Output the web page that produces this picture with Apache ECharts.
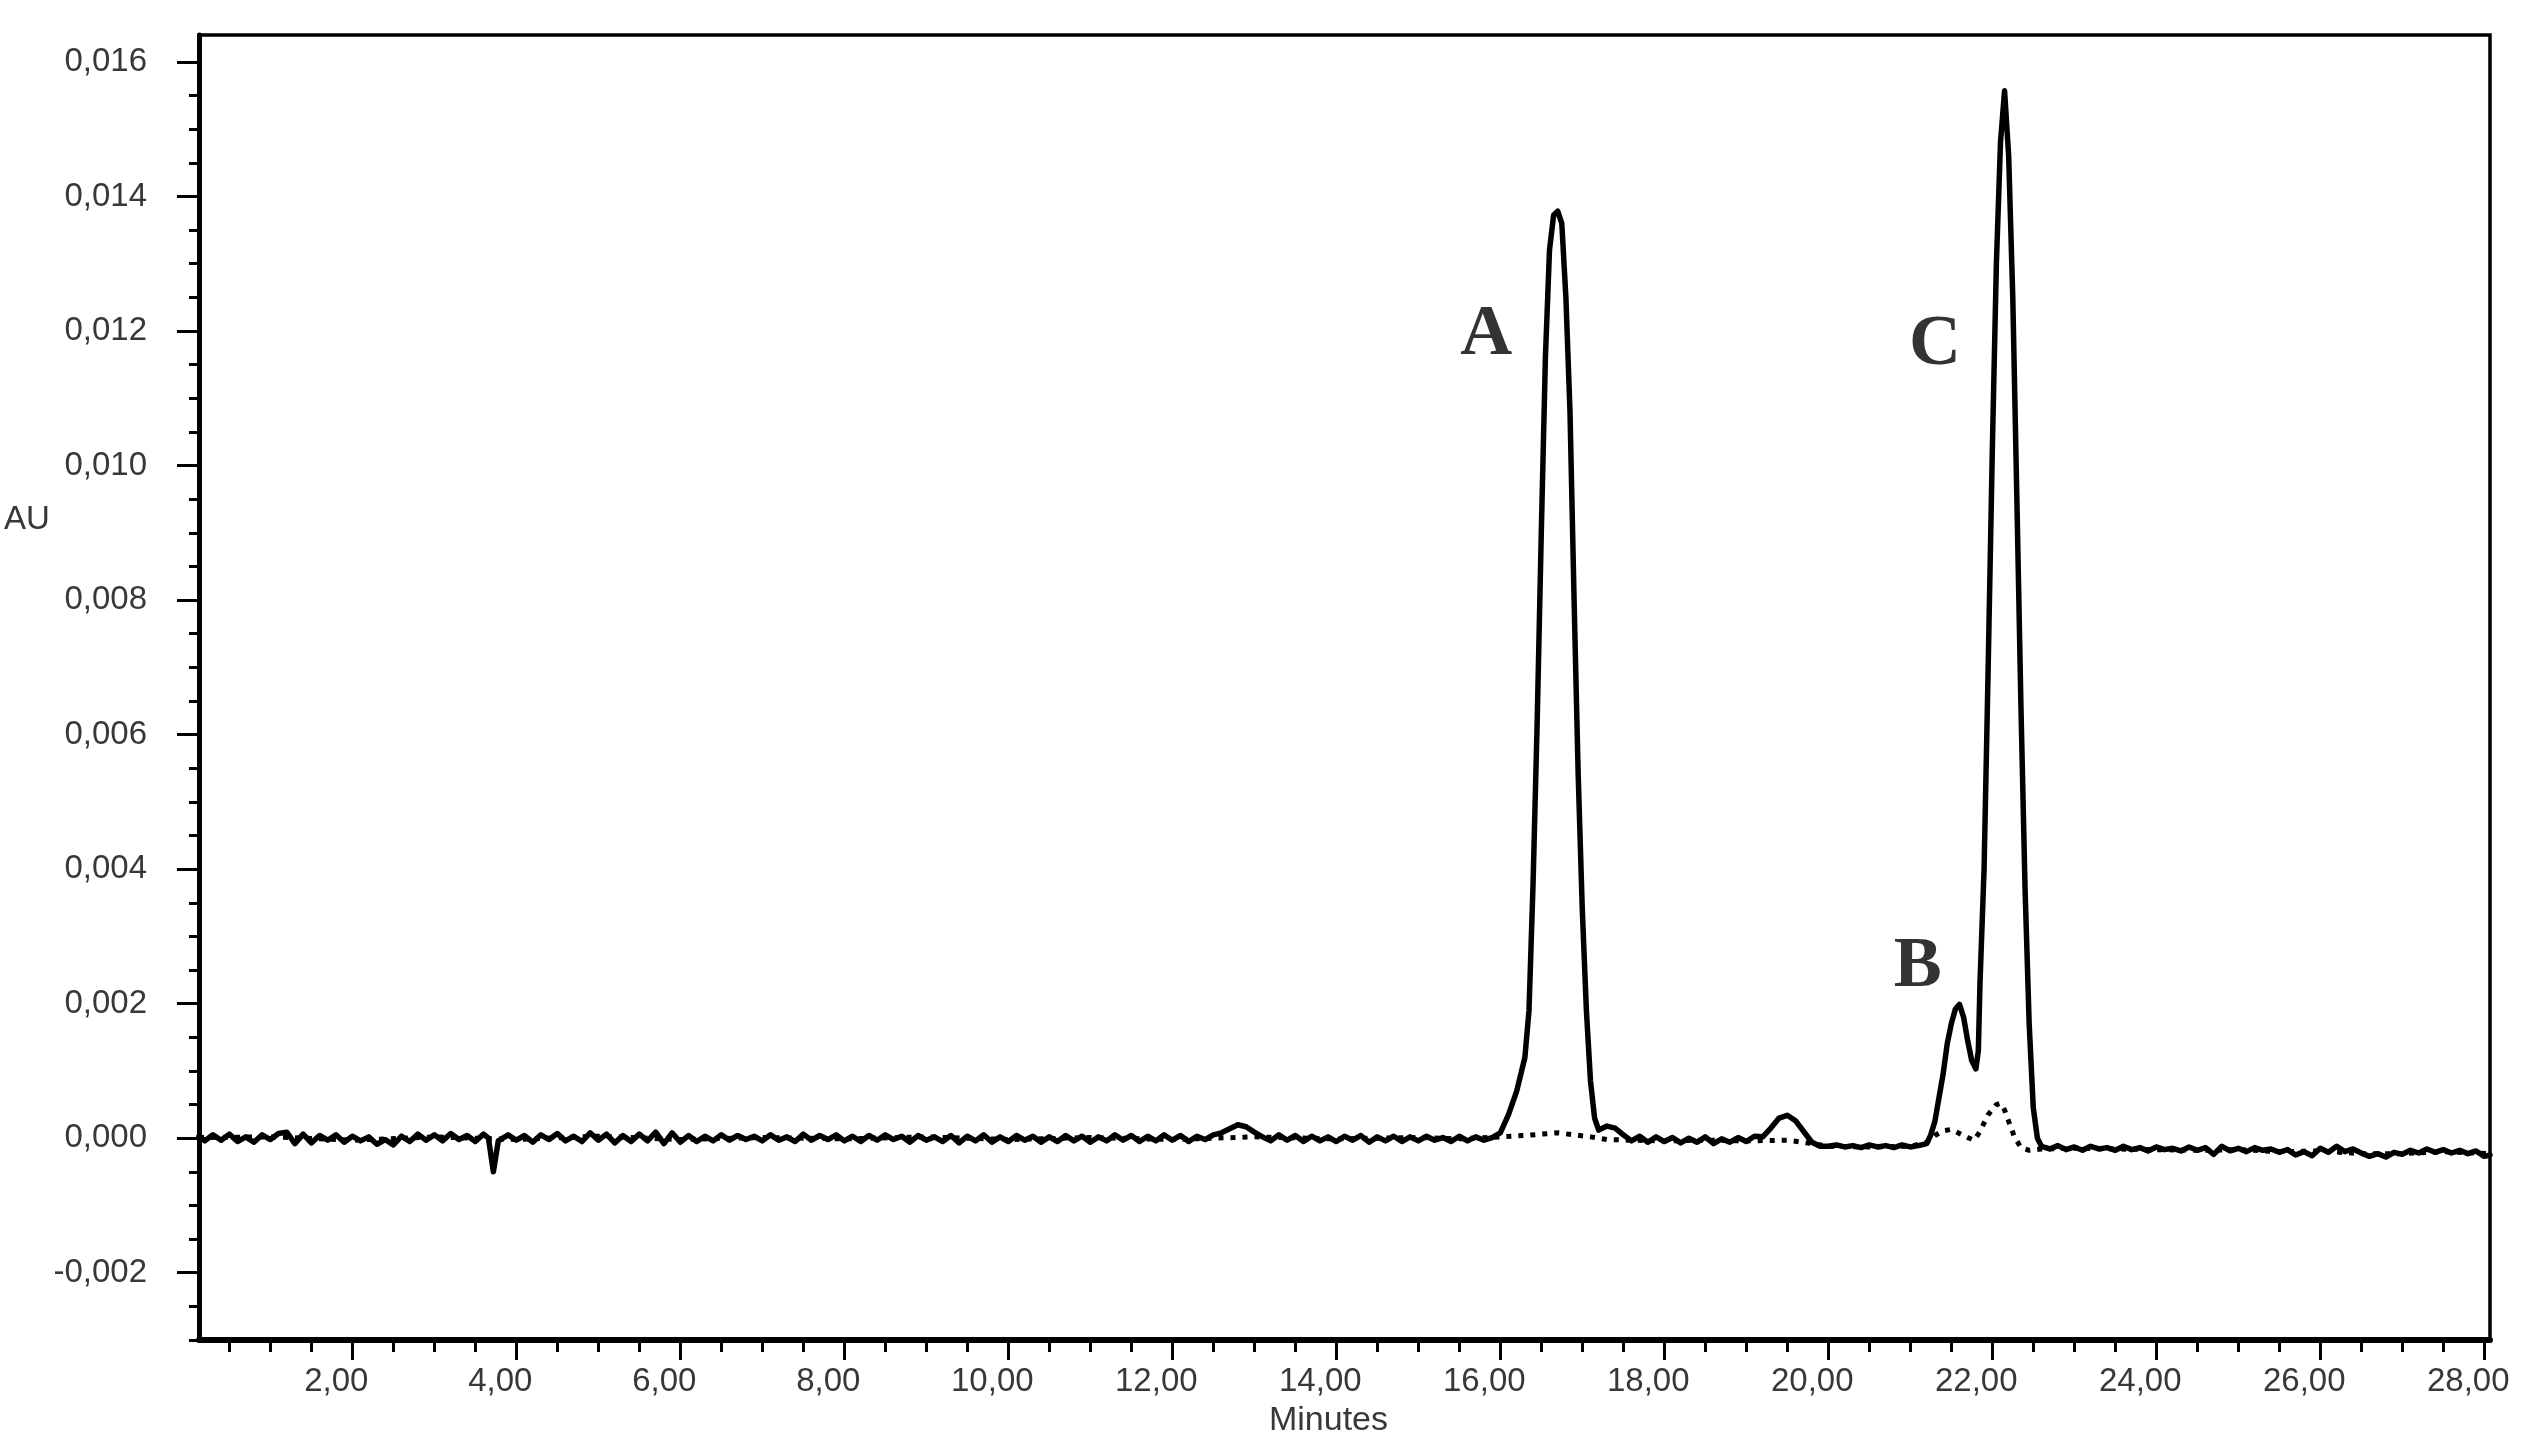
<!DOCTYPE html>
<html>
<head>
<meta charset="utf-8">
<script src="https://cdn.jsdelivr.net/npm/echarts@6/dist/echarts.min.js"></script>
<style>
html,body{margin:0;padding:0;background:#fff;}
#chart{width:2526px;height:1449px;}
</style>
</head>
<body>
<div id="chart"></div>
<script>
// ---- axis extents and tick labels ----
const xRange = [0.13, 28.07];
const yRange = [-0.003, 0.0164];
const xTickLabels = [2, 4, 6, 8, 10, 12, 14, 16, 18, 20, 22, 24, 26, 28];
const yTickLabels = [-0.002, 0, 0.002, 0.004, 0.006, 0.008, 0.010, 0.012, 0.014, 0.016];
const xMinorStep = 0.5;
const yMinorStep = 0.0005;

// ---- solid trace (minutes, AU) ----
const solidTime = [
  0.13, 0.2, 0.3, 0.4, 0.5, 0.6, 0.7, 0.8, 0.9, 1.0,
  1.1, 1.2, 1.3, 1.4, 1.5, 1.6, 1.7, 1.8, 1.9, 2.0,
  2.1, 2.2, 2.3, 2.4, 2.5, 2.6, 2.7, 2.8, 2.9, 3.0,
  3.1, 3.2, 3.3, 3.4, 3.5, 3.6, 3.66, 3.72, 3.78, 3.9,
  4.0, 4.1, 4.2, 4.3, 4.4, 4.5, 4.6, 4.7, 4.8, 4.9,
  5.0, 5.1, 5.2, 5.3, 5.4, 5.5, 5.6, 5.7, 5.8, 5.9,
  6.0, 6.1, 6.2, 6.3, 6.4, 6.5, 6.6, 6.7, 6.8, 6.9,
  7.0, 7.1, 7.2, 7.3, 7.4, 7.5, 7.6, 7.7, 7.8, 7.9,
  8.0, 8.1, 8.2, 8.3, 8.4, 8.5, 8.6, 8.7, 8.8, 8.9,
  9.0, 9.1, 9.2, 9.3, 9.4, 9.5, 9.6, 9.7, 9.8, 9.9,
  10.0, 10.1, 10.2, 10.3, 10.4, 10.5, 10.6, 10.7, 10.8, 10.9,
  11.0, 11.1, 11.2, 11.3, 11.4, 11.5, 11.6, 11.7, 11.8, 11.9,
  12.0, 12.1, 12.2, 12.3, 12.4, 12.5, 12.6, 12.7, 12.8, 12.9,
  13.0, 13.1, 13.2, 13.3, 13.4, 13.5, 13.6, 13.7, 13.8, 13.9,
  14.0, 14.1, 14.2, 14.3, 14.4, 14.5, 14.6, 14.7, 14.8, 14.9,
  15.0, 15.1, 15.2, 15.3, 15.4, 15.5, 15.6, 15.7, 15.8, 15.9,
  16.0, 16.1, 16.2, 16.3, 16.35, 16.4, 16.45, 16.5, 16.55, 16.6,
  16.65, 16.7, 16.75, 16.8, 16.85, 16.9, 16.95, 17.0, 17.05, 17.1,
  17.15, 17.2, 17.3, 17.4, 17.5, 17.6, 17.7, 17.8, 17.9, 18.0,
  18.1, 18.2, 18.3, 18.4, 18.5, 18.6, 18.7, 18.8, 18.9, 19.0,
  19.1, 19.2, 19.3, 19.4, 19.5, 19.6, 19.7, 19.8, 19.9, 20.0,
  20.1, 20.2, 20.3, 20.4, 20.5, 20.6, 20.7, 20.8, 20.9, 21.0,
  21.1, 21.2, 21.25, 21.3, 21.35, 21.4, 21.45, 21.5, 21.55, 21.6,
  21.65, 21.7, 21.75, 21.8, 21.83, 21.85, 21.9, 21.95, 22.0, 22.05,
  22.1, 22.15, 22.2, 22.25, 22.3, 22.35, 22.4, 22.45, 22.5, 22.55,
  22.6, 22.7, 22.8, 22.9, 23.0, 23.1, 23.2, 23.3, 23.4, 23.5,
  23.6, 23.7, 23.8, 23.9, 24.0, 24.1, 24.2, 24.3, 24.4, 24.5,
  24.6, 24.7, 24.8, 24.9, 25.0, 25.1, 25.2, 25.3, 25.4, 25.5,
  25.6, 25.7, 25.8, 25.9, 26.0, 26.1, 26.2, 26.3, 26.4, 26.5,
  26.6, 26.7, 26.8, 26.9, 27.0, 27.1, 27.2, 27.3, 27.4, 27.5,
  27.6, 27.7, 27.8, 27.9, 28.0, 28.07
];
const solidAU = [
  3e-5, -4e-5, 5e-5, -3e-5, 6e-5, -5e-5, 2e-5, -6e-5, 5e-5, -2e-5,
  7e-5, 9e-5, -8e-5, 6e-5, -7e-5, 4e-5, -3e-5, 5e-5, -6e-5, 3e-5,
  -4e-5, 2e-5, -9e-5, -2e-5, -10e-5, 3e-5, -5e-5, 6e-5, -3e-5, 5e-5,
  -4e-5, 7e-5, -2e-5, 4e-5, -5e-5, 6e-5, 0, -50e-5, -4e-5, 5e-5,
  -3e-5, 4e-5, -6e-5, 5e-5, -2e-5, 7e-5, -4e-5, 3e-5, -5e-5, 8e-5,
  -3e-5, 6e-5, -7e-5, 4e-5, -5e-5, 6e-5, -4e-5, 9e-5, -8e-5, 8e-5,
  -6e-5, 4e-5, -5e-5, 3e-5, -4e-5, 5e-5, -3e-5, 4e-5, -2e-5, 3e-5,
  -4e-5, 5e-5, -3e-5, 2e-5, -5e-5, 6e-5, -3e-5, 4e-5, -2e-5, 5e-5,
  -4e-5, 3e-5, -5e-5, 4e-5, -3e-5, 5e-5, -2e-5, 3e-5, -6e-5, 4e-5,
  -3e-5, 2e-5, -5e-5, 4e-5, -7e-5, 3e-5, -4e-5, 5e-5, -6e-5, 2e-5,
  -5e-5, 4e-5, -3e-5, 3e-5, -6e-5, 2e-5, -5e-5, 4e-5, -4e-5, 3e-5,
  -6e-5, 2e-5, -4e-5, 5e-5, -3e-5, 4e-5, -5e-5, 3e-5, -4e-5, 5e-5,
  -3e-5, 4e-5, -5e-5, 3e-5, -2e-5, 5e-5, 8e-5, 14e-5, 20e-5, 17e-5,
  9e-5, 2e-5, -4e-5, 5e-5, -3e-5, 4e-5, -5e-5, 3e-5, -4e-5, 2e-5,
  -5e-5, 3e-5, -3e-5, 4e-5, -6e-5, 2e-5, -4e-5, 3e-5, -5e-5, 2e-5,
  -4e-5, 3e-5, -3e-5, 1e-5, -5e-5, 3e-5, -4e-5, 2e-5, -3e-5, 1e-5,
  0.00008, 0.00035, 0.0007, 0.0012, 0.0019, 0.0038, 0.0062, 0.009, 0.0116, 0.0132,
  0.01372, 0.01378, 0.0136, 0.0125, 0.0108, 0.008, 0.0054, 0.0034, 0.0019, 0.00085,
  0.0003, 0.00012, 0.00018, 0.00015, 5e-5, -4e-5, 3e-5, -6e-5, 2e-5, -5e-5,
  1e-5, -7e-5, 0, -6e-5, 2e-5, -8e-5, -1e-5, -6e-5, 1e-5, -5e-5,
  3e-5, 2e-5, 0.00015, 0.0003, 0.00034, 0.00026, 0.0001, -6e-5, -12e-5, -12e-5,
  -10e-5, -13e-5, -11e-5, -14e-5, -10e-5, -13e-5, -11e-5, -14e-5, -10e-5, -13e-5,
  -11e-5, -8e-5, 5e-5, 0.00025, 0.0006, 0.00095, 0.0014, 0.0017, 0.00192, 0.00199,
  0.0018, 0.00145, 0.00115, 0.00103, 0.0013, 0.0023, 0.004, 0.007, 0.0102, 0.013,
  0.0148, 0.01557, 0.0146, 0.0125, 0.0095, 0.0064, 0.0037, 0.0017, 0.00045, 0,
  -12e-5, -16e-5, -11e-5, -17e-5, -13e-5, -18e-5, -12e-5, -16e-5, -14e-5, -18e-5,
  -12e-5, -17e-5, -14e-5, -19e-5, -13e-5, -17e-5, -15e-5, -19e-5, -13e-5, -18e-5,
  -14e-5, -24e-5, -12e-5, -19e-5, -15e-5, -20e-5, -14e-5, -18e-5, -16e-5, -21e-5,
  -17e-5, -25e-5, -20e-5, -26e-5, -15e-5, -21e-5, -12e-5, -20e-5, -16e-5, -22e-5,
  -27e-5, -23e-5, -28e-5, -21e-5, -24e-5, -18e-5, -22e-5, -16e-5, -21e-5, -17e-5,
  -22e-5, -18e-5, -23e-5, -19e-5, -27e-5, -25e-5
];

// ---- dotted trace (minutes, AU) ----
const dottedTime = [
  0.13, 1, 2, 3, 4, 5, 6, 7, 8, 9,
  10, 11, 12, 13, 14, 15, 15.5, 16.0, 16.3, 16.5,
  16.7, 16.9, 17.1, 17.3, 17.6, 18.0, 18.5, 19.0, 19.5, 19.8,
  20.0, 20.5, 21.0, 21.2, 21.3, 21.4, 21.5, 21.6, 21.7, 21.78,
  21.85, 21.95, 22.05, 22.1, 22.15, 22.2, 22.27, 22.35, 22.45, 22.6,
  23.0, 23.5, 24.0, 24.5, 25.0, 25.5, 26.0, 26.5, 27.0, 27.5,
  28.07
];
const dottedAU = [
  1e-5, 2e-5, -3e-5, 2e-5, -2e-5, 3e-5, -2e-5, 1e-5, -1e-5, 2e-5,
  -2e-5, 1e-5, -2e-5, 2e-5, -1e-5, 1e-5, -1e-5, 2e-5, 4e-5, 6e-5,
  8e-5, 5e-5, 2e-5, -2e-5, -3e-5, -4e-5, -3e-5, -4e-5, -3e-5, -8e-5,
  -12e-5, -13e-5, -12e-5, -6e-5, 4e-5, 11e-5, 13e-5, 7e-5, 1e-5, -3e-5,
  10e-5, 35e-5, 50e-5, 52e-5, 42e-5, 25e-5, 2e-5, -14e-5, -18e-5, -16e-5,
  -15e-5, -16e-5, -17e-5, -18e-5, -17e-5, -20e-5, -19e-5, -23e-5, -23e-5, -20e-5,
  -23e-5
];

// ---- peak annotations ----
const peakNames = ['A', 'B', 'C'];
const peakLabelTime = [15.83, 21.09, 21.30];
const peakLabelAU = [0.01194, 0.00254, 0.01179];

// ---- build ----
const solidData = solidTime.map((t, i) => [t, solidAU[i]]);
const dottedData = dottedTime.map((t, i) => [t, dottedAU[i]]);
const peakData = peakNames.map((n, i) => ({ name: n, value: [peakLabelTime[i], peakLabelAU[i]] }));

const xMinor = [];
for (let k = Math.ceil(xRange[0] / xMinorStep); k * xMinorStep <= xRange[1] + 1e-9; k++) xMinor.push(+(k * xMinorStep).toFixed(4));
const yMinor = [];
for (let k = Math.ceil(yRange[0] / yMinorStep - 1e-9); k * yMinorStep <= yRange[1] + 1e-12; k++) yMinor.push(+(k * yMinorStep).toFixed(6));

const labelFont = 'Liberation Sans, Arial, sans-serif';
const labelColor = '#383838';

const chart = echarts.init(document.getElementById('chart'), null, { renderer: 'canvas' });
chart.setOption({
  animation: false,
  backgroundColor: '#ffffff',
  grid: {
    left: 199, top: 35, right: 36, bottom: 109,
    show: true, borderColor: '#000', borderWidth: 3.5, backgroundColor: 'transparent'
  },
  xAxis: [
    {
      type: 'value', min: xRange[0], max: xRange[1],
      axisLine: { show: true, onZero: false, lineStyle: { color: '#000', width: 6 } },
      axisTick: { show: true, customValues: xTickLabels, length: 20, lineStyle: { color: '#000', width: 3 } },
      axisLabel: {
        customValues: xTickLabels, margin: 25,
        formatter: v => v.toFixed(2).replace('.', ','),
        fontSize: 33, fontFamily: labelFont, color: labelColor,
        padding: [0, 32, 0, 0]
      },
      splitLine: { show: false },
      name: 'Minutes', nameLocation: 'middle', nameGap: 64,
      nameTextStyle: { fontSize: 34, fontFamily: labelFont, color: labelColor, padding: [0, 32, 0, 0] }
    },
    {
      type: 'value', min: xRange[0], max: xRange[1], position: 'bottom',
      axisLine: { show: false, onZero: false },
      axisTick: { show: true, customValues: xMinor, length: 12, lineStyle: { color: '#000', width: 3 } },
      axisLabel: { show: false },
      splitLine: { show: false }
    }
  ],
  yAxis: [
    {
      type: 'value', min: yRange[0], max: yRange[1],
      axisLine: { show: true, onZero: false, lineStyle: { color: '#000', width: 5 } },
      axisTick: { show: true, customValues: yTickLabels, length: 22, lineStyle: { color: '#000', width: 3 } },
      axisLabel: {
        customValues: yTickLabels, margin: 52,
        formatter: v => v.toFixed(3).replace('.', ','),
        fontSize: 33, fontFamily: labelFont, color: labelColor
      },
      splitLine: { show: false }
    },
    {
      type: 'value', min: yRange[0], max: yRange[1], position: 'left',
      axisLine: { show: false, onZero: false },
      axisTick: { show: true, customValues: yMinor, length: 10, lineStyle: { color: '#000', width: 3 } },
      axisLabel: { show: false },
      splitLine: { show: false }
    }
  ],
  graphic: [
    {
      type: 'text', x: 4, y: 520, silent: true,
      style: { text: 'AU', fontSize: 33, fontFamily: labelFont, fill: labelColor, verticalAlign: 'middle' }
    }
  ],
  series: [
    {
      type: 'line', name: 'solid', data: solidData, showSymbol: false, symbol: 'none',
      lineStyle: { color: '#000', width: 5.5, join: 'round', cap: 'round' },
      z: 3
    },
    {
      type: 'line', name: 'dotted', data: dottedData, showSymbol: false, symbol: 'none',
      lineStyle: { color: '#000', width: 5, type: [5, 7] },
      z: 4
    },
    {
      type: 'scatter', name: 'labels', data: peakData, symbolSize: 1, silent: true,
      itemStyle: { color: 'rgba(0,0,0,0)' },
      label: {
        show: true, position: 'inside', formatter: p => p.name,
        fontFamily: 'Liberation Serif, Times New Roman, serif', fontWeight: 'bold',
        fontSize: 72, color: '#000'
      },
      z: 5
    }
  ]
});
</script>
</body>
</html>
